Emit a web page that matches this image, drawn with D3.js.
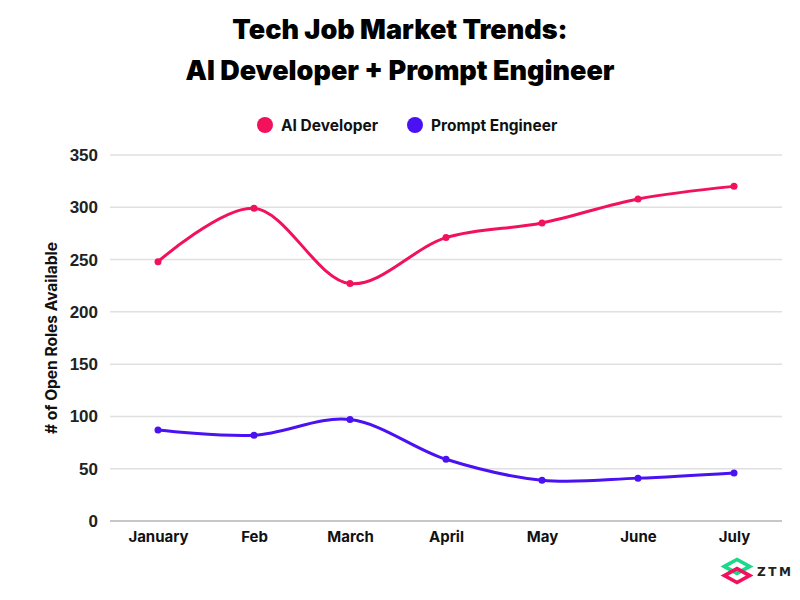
<!DOCTYPE html>
<html>
<head>
<meta charset="utf-8">
<script src="https://cdn.jsdelivr.net/npm/d3@7"></script>
<style>
  body { margin: 0; background: #fff; }
  svg { display: block; }
</style>
</head>
<body>
<svg id="chart" width="800" height="600"></svg>
<script>
// data
const months = ["January", "Feb", "March", "April", "May", "June", "July"];
const aiDeveloper = [248, 299, 227, 271, 285, 308, 320];
const promptEngineer = [87, 82, 97, 59, 39, 41, 46];
const yTicks = [0, 50, 100, 150, 200, 250, 300, 350];
const seriesNames = ["AI Developer", "Prompt Engineer"];
const seriesColors = ["#f2115b", "#4a12f2"];

const svg = d3.select("#chart");
const margin = { left: 110, right: 18, top: 155, bottom: 79 };
const W = 800, H = 600;

const x = d3.scalePoint().domain(months).range([margin.left, W - margin.right]).padding(0.5);
const y = d3.scaleLinear().domain([0, 350]).range([H - margin.bottom, margin.top]);

// title
const title = svg.append("text")
  .attr("text-anchor", "middle")
  .style("font-family", "Inter, 'Noto Sans', sans-serif")
  .style("font-weight", 900)
  .style("font-size", "27px")
  .style("fill", "#000");
title.append("tspan").attr("x", 400).attr("y", 39).text("Tech Job Market Trends:");
title.append("tspan").attr("x", 400).attr("y", 80).text("AI Developer + Prompt Engineer");

// legend
const legendX = [265, 415];
const legend = svg.append("g");
seriesNames.forEach((name, i) => {
  legend.append("circle").attr("cx", legendX[i]).attr("cy", 125).attr("r", 8).attr("fill", seriesColors[i]);
  legend.append("text")
    .attr("x", legendX[i] + 16).attr("y", 130.5)
    .style("font-family", "Inter, 'Noto Sans', sans-serif")
    .style("font-weight", 700)
    .style("font-size", "15.5px")
    .style("fill", "#111")
    .text(name);
});

// grid
svg.append("g").selectAll("line").data(yTicks).join("line")
  .attr("x1", margin.left).attr("x2", W - margin.right)
  .attr("y1", d => y(d)).attr("y2", d => y(d))
  .attr("stroke", d => d === 0 ? "#b5b5b5" : "#e0e0e0")
  .attr("stroke-width", 1.5);

// y axis
const yAxis = svg.append("g")
  .attr("transform", `translate(${margin.left - 8},0)`)
  .call(d3.axisLeft(y).tickValues(yTicks).tickSize(0).tickPadding(4));
yAxis.select(".domain").remove();
yAxis.selectAll("text")
  .style("font-family", "'Liberation Sans', Arial, sans-serif")
  .style("font-weight", 700)
  .style("font-size", "17px")
  .style("fill", "#222");

// x axis
const xAxis = svg.append("g")
  .attr("transform", `translate(0,${H - margin.bottom})`)
  .call(d3.axisBottom(x).tickSize(0).tickPadding(10));
xAxis.select(".domain").remove();
xAxis.selectAll("text")
  .style("font-family", "Inter, 'Noto Sans', sans-serif")
  .style("font-weight", 700)
  .style("font-size", "15px")
  .style("fill", "#111");

// y label
svg.append("text")
  .attr("transform", "translate(57,338) rotate(-90)")
  .attr("text-anchor", "middle")
  .style("font-family", "Inter, 'Noto Sans', sans-serif")
  .style("font-weight", 700)
  .style("font-size", "15.5px")
  .style("fill", "#111")
  .text("# of Open Roles Available");

// lines
const line = d3.line()
  .x((d, i) => x(months[i]))
  .y(d => y(d))
  .curve(d3.curveCatmullRom.alpha(0.5));

[aiDeveloper, promptEngineer].forEach((vals, i) => {
  svg.append("path")
    .attr("d", line(vals))
    .attr("fill", "none")
    .attr("stroke", seriesColors[i])
    .attr("stroke-width", 3);
  svg.append("g").selectAll("circle").data(vals).join("circle")
    .attr("cx", (d, j) => x(months[j]))
    .attr("cy", d => y(d))
    .attr("r", 3.5)
    .attr("fill", seriesColors[i]);
});

// ZTM logo
const logo = svg.append("g").attr("transform", "translate(737,571) scale(1.15)");
logo.append("path").attr("d", "M-11,-4 L0,-10 L11,-4 L0,2 Z")
  .attr("fill", "none").attr("stroke", "#19d98a").attr("stroke-width", 3.2);
logo.append("path").attr("d", "M-11,4 L0,-2 L11,4 L0,10 Z")
  .attr("fill", "none").attr("stroke", "#f2115b").attr("stroke-width", 3.2);
svg.append("text")
  .attr("x", 757).attr("y", 576)
  .style("font-family", "'DejaVu Sans', sans-serif")
  .style("font-weight", 600)
  .style("font-size", "12px")
  .style("letter-spacing", "2.5px")
  .style("fill", "#222")
  .text("ZTM");
</script>
</body>
</html>
